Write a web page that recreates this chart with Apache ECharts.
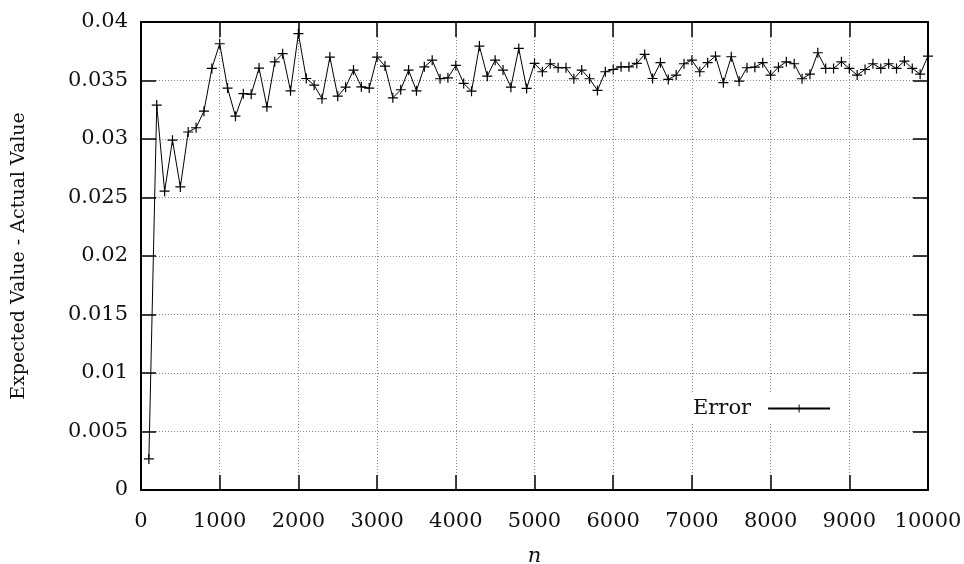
<!DOCTYPE html>
<html>
<head>
<meta charset="utf-8">
<script src="https://cdn.jsdelivr.net/npm/echarts@6/dist/echarts.min.js"></script>
<style>
html,body{margin:0;padding:0;background:#fff;}
#chart{width:964px;height:564px;}
</style>
</head>
<body>
<div id="chart"></div>
<script>
const nValues = [100,200,300,400,500,600,700,800,900,1000,1100,1200,1300,1400,1500,1600,1700,1800,1900,2000,2100,2200,2300,2400,2500,2600,2700,2800,2900,3000,3100,3200,3300,3400,3500,3600,3700,3800,3900,4000,4100,4200,4300,4400,4500,4600,4700,4800,4900,5000,5100,5200,5300,5400,5500,5600,5700,5800,5900,6000,6100,6200,6300,6400,6500,6600,6700,6800,6900,7000,7100,7200,7300,7400,7500,7600,7700,7800,7900,8000,8100,8200,8300,8400,8500,8600,8700,8800,8900,9000,9100,9200,9300,9400,9500,9600,9700,9800,9900,10000];
const errorValues = [0.00266,0.0329,0.02554,0.0299,0.0259,0.0306,0.03096,0.03238,0.03603,0.03814,
0.03435,0.03195,0.03387,0.03383,0.03606,0.03275,0.0366,0.03729,0.03412,0.039,
0.03517,0.0346,0.03344,0.037,0.03366,0.03443,0.03589,0.03446,0.03435,0.037,
0.03623,0.03352,0.03421,0.03589,0.03412,0.03617,0.03674,0.03515,0.03523,0.03629,
0.03475,0.03409,0.03794,0.03537,0.03674,0.03589,0.03443,0.03774,0.03432,0.03646,
0.03575,0.03643,0.03609,0.03609,0.03515,0.03589,0.03515,0.03415,0.03575,0.03594,
0.03617,0.03617,0.03646,0.03723,0.03517,0.03652,0.03509,0.03546,0.03643,0.03674,
0.03575,0.03652,0.03708,0.03481,0.03703,0.03494,0.03609,0.03614,0.03652,0.03546,
0.03614,0.0366,0.03643,0.03515,0.03554,0.03737,0.03603,0.03603,0.0366,0.03603,
0.03546,0.03594,0.03643,0.03603,0.03643,0.03603,0.03666,0.03603,0.03554,0.03708];
const seriesName = 'Error';
const xTitle = 'n';
const yTitle = 'Expected Value - Actual Value';

const FONT = 'DejaVu Serif';
const plus = 'path://M0,4.4H10V5.6H0ZM4.4,0H5.6V10H4.4Z';
const gridLine = {show:true, lineStyle:{color:'#888', type:[1,2], width:1}};
const border = {show:true, onZero:false, lineStyle:{color:'#000', width:2}};
const tick = {show:true, inside:true, length:15, lineStyle:{color:'#000', width:1.5}};

const chart = echarts.init(document.getElementById('chart'), null, {renderer:'canvas'});
chart.setOption({
  backgroundColor:'#fff',
  animation:false,
  grid:{left:141, top:22, width:787, height:468, containLabel:false, outerBoundsMode:'none'},
  legend:{
    show:true, left:688, top:393, align:'right', itemWidth:62, itemHeight:10,
    itemGap:0, padding:[5,8,5,5], backgroundColor:'#fff',
    textStyle:{fontFamily:FONT, fontSize:21, color:'#111', padding:[0,12,0,0]},
    data:[seriesName]
  },
  xAxis:[{
    type:'value', min:0, max:10000, interval:1000, position:'bottom',
    axisLine:border, axisTick:tick, splitLine:gridLine,
    axisLabel:{fontFamily:FONT, fontSize:21, color:'#111', margin:21,
      formatter:function(v){return String(v);}},
    name:xTitle, nameLocation:'middle', nameGap:56,
    nameTextStyle:{fontFamily:FONT, fontSize:21, fontStyle:'italic', color:'#111'}
  },{
    type:'value', min:0, max:10000, interval:1000, position:'top',
    axisLine:border, axisTick:tick, splitLine:{show:false}, axisLabel:{show:false}
  }],
  yAxis:[{
    type:'value', min:0, max:0.04, interval:0.005, position:'left',
    axisLine:border, axisTick:tick, splitLine:gridLine,
    axisLabel:{fontFamily:FONT, fontSize:21, color:'#111', margin:13,
      formatter:function(v){return String(+v.toFixed(3));}},
    name:yTitle, nameLocation:'middle', nameGap:112, nameRotate:90,
    nameTextStyle:{fontFamily:FONT, fontSize:19, color:'#111'}
  },{
    type:'value', min:0, max:0.04, interval:0.005, position:'right',
    axisLine:border, axisTick:tick, splitLine:{show:false}, axisLabel:{show:false}
  }],
  series:[{
    name:seriesName, type:'line',
    data:nValues.map((n,i)=>[n, errorValues[i]]),
    symbol:plus, symbolSize:10, showSymbol:true,
    lineStyle:{color:'#000', width:1},
    itemStyle:{color:'#000'}
  }]
});
</script>
</body>
</html>
